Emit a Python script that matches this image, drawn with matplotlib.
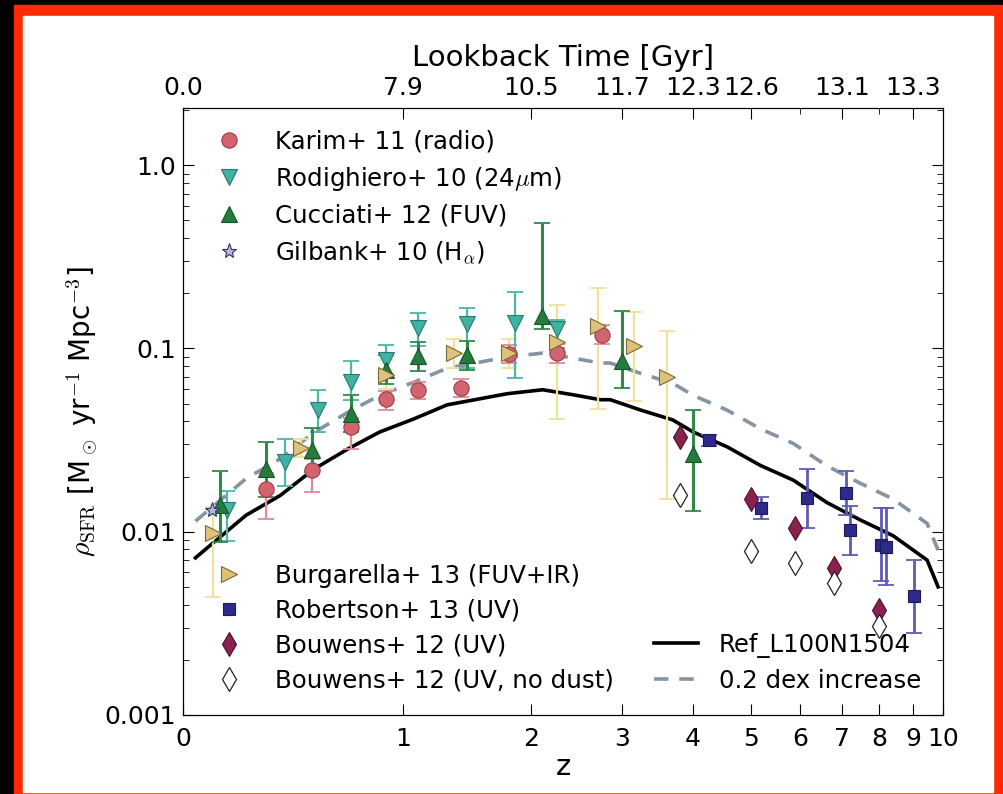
import numpy as np
import matplotlib
matplotlib.use('Agg')
import matplotlib.pyplot as plt
from matplotlib.patches import Rectangle

plt.rcParams['mathtext.fontset'] = 'cm'

# ---- data: z, rho_SFR, and error bars in dex (down, up)
karim_z = [0.3, 0.5, 0.7, 0.9, 1.1, 1.4, 1.8, 2.25, 2.75]
karim_rho = [0.0170, 0.0216, 0.0373, 0.0531, 0.0595, 0.061, 0.093, 0.094, 0.119]
karim_lo = [0.16, 0.12, 0.12, 0.06, 0.05, 0.05, 0.05, 0.05, 0.05]
karim_hi = [0.09, 0.06, 0.05, 0.04, 0.04, 0.05, 0.05, 0.05, 0.05]

rodi_z = [0.15, 0.38, 0.53, 0.7, 0.9, 1.1, 1.45, 1.85, 2.25]
rodi_rho = [0.0132, 0.0239, 0.0462, 0.0659, 0.087, 0.129, 0.1355, 0.137, 0.127]
rodi_lo = [0.17, 0.13, 0.12, 0.10, 0.08, 0.10, 0.24, 0.30, 0.10]
rodi_hi = [0.10, 0.13, 0.11, 0.11, 0.08, 0.08, 0.09, 0.17, 0.05]

cucc_z = [0.125, 0.3, 0.5, 0.7, 0.9, 1.1, 1.45, 2.1, 3.0, 4.0]
cucc_rho = [0.0139, 0.0219, 0.0279, 0.044, 0.0767, 0.0904, 0.0916, 0.150, 0.0859, 0.0265]
cucc_lo = [0.20, 0.15, 0.12, 0.10, 0.08, 0.08, 0.08, 0.07, 0.15, 0.31]
cucc_hi = [0.19, 0.15, 0.12, 0.10, 0.08, 0.08, 0.08, 0.51, 0.27, 0.24]

gilb_z = [0.095]
gilb_rho = [0.0132]

burg_z = [0.1, 0.45, 0.9, 1.35, 1.8, 2.25, 2.7, 3.15, 3.6]
burg_rho = [0.00988, 0.0286, 0.072, 0.094, 0.094, 0.109, 0.132, 0.1026, 0.0702]
burg_lo = [0.35, 0.05, 0.08, 0.08, 0.08, 0.42, 0.45, 0.30, 0.67]
burg_hi = [0.14, 0.05, 0.08, 0.08, 0.08, 0.20, 0.21, 0.19, 0.25]

robe_z = [4.25, 5.2, 6.15, 7.1, 7.2, 8.05, 8.2, 9.05]
robe_rho = [0.0316, 0.01355, 0.0152, 0.0162, 0.01026, 0.0085, 0.0083, 0.00445]
robe_lo = [0.03, 0.06, 0.16, 0.12, 0.14, 0.20, 0.21, 0.20]
robe_hi = [0.03, 0.06, 0.16, 0.12, 0.13, 0.20, 0.21, 0.20]

bouw_z = [3.8, 5.0, 5.9, 6.8, 8.0]
bouw_rho = [0.0328, 0.0150, 0.0105, 0.00634, 0.00373]
bouw_nodust_rho = [0.0158, 0.00787, 0.00676, 0.00525, 0.00305]

ref_z = [0.04, 0.1, 0.22, 0.36, 0.51, 0.68, 0.86, 1.07, 1.3, 1.55, 1.78, 2.11,
         2.42, 2.73, 2.85, 3.23, 3.69, 4.0, 4.57, 5.18, 5.86, 6.63, 7.47, 8.4,
         9.46, 9.83]
ref_rho = [0.0072, 0.0087, 0.0123, 0.0158, 0.0219, 0.0282, 0.035, 0.0412,
           0.0492, 0.0531, 0.0566, 0.0595, 0.0559, 0.0525, 0.0525, 0.0462,
           0.0407, 0.035, 0.029, 0.023, 0.0191, 0.0144, 0.0116, 0.0095,
           0.0070, 0.0050]
dex_offset = 0.2

z_ticks = [0, 1, 2, 3, 4, 5, 6, 7, 8, 9, 10]
lb_z = [0, 1, 2, 3, 4, 5, 7, 9]
lb_gyr = ['0.0', '7.9', '10.5', '11.7', '12.3', '12.6', '13.1', '13.3']
lb_minor_z = [6, 8]


def lz(z):
    return np.log10(1 + np.asarray(z, dtype=float))


def yerr(rho, lo, hi):
    rho = np.asarray(rho)
    return [rho - rho * 10 ** (-np.asarray(lo)), rho * 10 ** np.asarray(hi) - rho]


fig = plt.figure(figsize=(10.04, 7.94), dpi=100, facecolor='black')
fig.add_artist(Rectangle((0.0139, 0.0), 0.984, 0.9937, transform=fig.transFigure,
                         color='#fd2a06', zorder=-3))
fig.add_artist(Rectangle((0.0229, 0.0025), 0.9661, 0.9773, transform=fig.transFigure,
                         color='white', zorder=-2))

ax = fig.add_axes([0.1823, 0.0995, 0.7570, 0.7645])
ax.set_yscale('log')

# model lines
ax.plot(lz(ref_z), ref_rho, color='black', lw=2.6, zorder=2, label='Ref_L100N1504')
ax.plot(lz(ref_z), np.asarray(ref_rho) * 10 ** dex_offset, color='#8593a3', lw=2.6,
        dashes=(4, 3), zorder=2, label='0.2 dex increase')

# error bars
eb = dict(fmt='none', capsize=6, capthick=1.3)
ax.errorbar(lz(burg_z), burg_rho, yerr=yerr(burg_rho, burg_lo, burg_hi),
            ecolor='#efe29a', elinewidth=1.6, zorder=2.5, **eb)
ax.errorbar(lz(karim_z), karim_rho, yerr=yerr(karim_rho, karim_lo, karim_hi),
            ecolor='#e08a95', elinewidth=1.6, zorder=2.6, **eb)
ax.errorbar(lz(rodi_z), rodi_rho, yerr=yerr(rodi_rho, rodi_lo, rodi_hi),
            ecolor='#4cb8a8', elinewidth=1.6, zorder=2.7, **eb)
ax.errorbar(lz(cucc_z), cucc_rho, yerr=yerr(cucc_rho, cucc_lo, cucc_hi),
            ecolor='#2f8a4a', elinewidth=2.2, zorder=2.8, **eb)
ax.errorbar(lz(robe_z), robe_rho, yerr=yerr(robe_rho, robe_lo, robe_hi),
            ecolor='#5f5ab8', elinewidth=2.0, zorder=2.9, **eb)

# markers
h_karim, = ax.plot(lz(karim_z), karim_rho, 'o', ms=11, mfc='#d3636f', mec='#9a3f4a',
                   mew=0.8, zorder=3.0, label='Karim+ 11 (radio)')
h_rodi, = ax.plot(lz(rodi_z), rodi_rho, 'v', ms=12, mfc='#3fb3a3', mec='#2a7a70',
                  mew=0.8, zorder=3.1, label=r'Rodighiero+ 10 (24$\mu$m)')
h_cucc, = ax.plot(lz(cucc_z), cucc_rho, '^', ms=12, mfc='#237c3c', mec='#17542a',
                  mew=0.8, zorder=3.2, label='Cucciati+ 12 (FUV)')
h_gilb, = ax.plot(lz(gilb_z), gilb_rho, '*', ms=11, mfc='#b8b8e0', mec='#30306a',
                  mew=0.8, zorder=3.3, label=r'Gilbank+ 10 (H$_\alpha$)')
h_burg, = ax.plot(lz(burg_z), burg_rho, '>', ms=12, mfc='#dcc27a', mec='#7a6a30',
                  mew=0.8, zorder=3.4, label='Burgarella+ 13 (FUV+IR)')
h_robe, = ax.plot(lz(robe_z), robe_rho, 's', ms=9, mfc='#2e2a8a', mec='#1c1a5a',
                  mew=0.8, zorder=3.5, label='Robertson+ 13 (UV)')
h_bouw, = ax.plot(lz(bouw_z), bouw_rho, 'd', ms=12, mfc='#8a2250', mec='#4a1028',
                  mew=0.8, zorder=3.6, label='Bouwens+ 12 (UV)')
h_bnd, = ax.plot(lz(bouw_z), bouw_nodust_rho, 'd', ms=12, mfc='white', mec='#222222',
                 mew=0.9, zorder=3.7, label='Bouwens+ 12 (UV, no dust)')

ax.set_xlim(0, lz(10))
ax.set_ylim(0.001, 2.05)
ax.set_xticks(lz(z_ticks))
ax.set_xticklabels([str(z) for z in z_ticks])
ax.set_yticks([0.001, 0.01, 0.1, 1.0])
ax.set_yticklabels(['0.001', '0.01', '0.1', '1.0'])
ax.yaxis.set_minor_formatter(plt.NullFormatter())
ax.tick_params(axis='both', which='both', direction='in', labelsize=18)
ax.tick_params(axis='x', which='major', top=False, length=8, pad=9)
ax.tick_params(axis='y', which='both', right=True, pad=5)
ax.tick_params(axis='y', which='major', length=8)
ax.tick_params(axis='y', which='minor', length=4)
ax.set_xlabel('z', fontsize=21, labelpad=1)
ax.set_ylabel(r'$\rho_{\rm SFR}$ [M$_\odot$ yr$^{-1}$ Mpc$^{-3}$]', fontsize=20, labelpad=3)

ax2 = ax.twiny()
ax2.set_xlim(ax.get_xlim())
ax2.set_xticks(lz(lb_z))
ax2.set_xticklabels(lb_gyr)
ax2.set_xticks(lz(lb_minor_z), minor=True)
ax2.tick_params(axis='x', which='both', direction='in', labelsize=18, pad=6)
ax2.tick_params(axis='x', which='major', length=8)
ax2.tick_params(axis='x', which='minor', length=4)
ax2.set_xlabel('Lookback Time [Gyr]', fontsize=21, labelpad=7)

leg_kw = dict(frameon=False, fontsize=17.6, numpoints=1, handletextpad=0.85,
              labelspacing=0.45)
leg1 = ax.legend(handles=[h_karim, h_rodi, h_cucc, h_gilb], loc='upper left', **leg_kw)
ax.add_artist(leg1)
leg2 = ax.legend(handles=[h_burg, h_robe, h_bouw, h_bnd], loc='lower left', **leg_kw)
ax.add_artist(leg2)
lines = ax.get_lines()
ax.legend(handles=[lines[0], lines[1]], loc='lower right', handlelength=1.8, **leg_kw)

fig.savefig('out.png', dpi=100, facecolor=fig.get_facecolor())
